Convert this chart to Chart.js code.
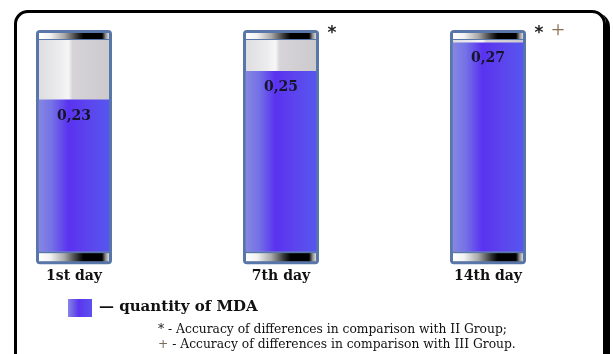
<!DOCTYPE html>
<html>
<head>
<meta charset="utf-8">
<script src="https://cdn.jsdelivr.net/npm/chart.js@4/dist/chart.umd.min.js"></script>
<style>
  html, body { margin: 0; padding: 0; background: #fff; }
  #wrap { position: relative; width: 613px; height: 354px; overflow: hidden; }
  #frame {
    position: absolute; left: 14px; top: 10px; width: 586px; height: 360px;
    border: 3px solid #000; border-radius: 14px; box-shadow: 4px 3px 0 #000;
  }
  #chart { position: absolute; left: 0; top: 0; }
  .legend-box {
    position: absolute; left: 68px; top: 299px; width: 24px; height: 18px;
    background: linear-gradient(to right, #8484e4 0%, #5a36ee 45%, #5c52ee 100%);
  }
  .legend-text {
    position: absolute; left: 99px; top: 297px;
    font: bold 15px "DejaVu Serif", serif; color: #111; white-space: nowrap;
  }
  .notes {
    position: absolute; left: 158px; top: 322px;
    font: 12.3px/15px "DejaVu Serif", serif; color: #111; white-space: nowrap;
  }
  .notes .plus { color: #7a6a5a; }
</style>
</head>
<body>
<div id="wrap">
  <div id="frame"></div>
  <canvas id="chart" width="613" height="354"></canvas>
  <div class="legend-box"></div>
  <div class="legend-text">— quantity of MDA</div>
  <div class="notes">
    <div>* - Accuracy of differences in comparison with II Group;</div>
    <div><span class="plus">+</span> - Accuracy of differences in comparison with III Group.</div>
  </div>
</div>
<script>
// Malondialdehyde level by observation day
const days = ['1st day', '7th day', '14th day'];
const mdaValues = [0.23, 0.25, 0.27];
// significance marks next to each tube: '*' vs II group, '+' vs III group
const significance = ['', '*', '*+'];
// value range shown inside a tube (bottom of the liquid to the top cap)
const Y_MIN = 0.124;
const Y_MAX = 0.272;

const valueText = v => v.toFixed(2).replace('.', ',');

const TUBE_HALF = 38;   // outer half-width of a tube
const INNER_HALF = 35;  // half-width of the liquid column

function blueFill(ctx) {
  const chart = ctx.chart;
  const xs = chart.scales && chart.scales.x;
  const cx = (xs && ctx.type === 'data') ? xs.getPixelForValue(ctx.dataIndex) : NaN;
  if (!Number.isFinite(cx)) return '#5a40ee';
  const g = chart.ctx.createLinearGradient(cx - INNER_HALF, 0, cx + INNER_HALF, 0);
  g.addColorStop(0, '#8686e2');
  g.addColorStop(0.18, '#7472e6');
  g.addColorStop(0.42, '#5a32f0');
  g.addColorStop(0.7, '#5c44ee');
  g.addColorStop(1, '#5656ee');
  return g;
}

function roundRect(ctx, x, y, w, h, r) {
  ctx.beginPath();
  ctx.moveTo(x + r, y);
  ctx.arcTo(x + w, y, x + w, y + h, r);
  ctx.arcTo(x + w, y + h, x, y + h, r);
  ctx.arcTo(x, y + h, x, y, r);
  ctx.arcTo(x, y, x + w, y, r);
  ctx.closePath();
}

function capGradient(ctx, cx) {
  const g = ctx.createLinearGradient(cx - INNER_HALF, 0, cx + INNER_HALF, 0);
  g.addColorStop(0, '#ffffff');
  g.addColorStop(0.16, '#f2f2f2');
  g.addColorStop(0.36, '#aaaaaa');
  g.addColorStop(0.56, '#2a2a2a');
  g.addColorStop(0.64, '#000000');
  g.addColorStop(0.9, '#000000');
  g.addColorStop(0.95, '#8a8a8a');
  g.addColorStop(1, '#dcdcdc');
  return g;
}

function glassGradient(ctx, cx) {
  const g = ctx.createLinearGradient(cx - INNER_HALF, 0, cx + INNER_HALF, 0);
  g.addColorStop(0, '#dedee2');
  g.addColorStop(0.3, '#ececee');
  g.addColorStop(0.42, '#f6f6f6');
  g.addColorStop(0.48, '#d6d4d8');
  g.addColorStop(1, '#cdcacd');
  return g;
}

// draws the tube body (frame, caps, empty glass) behind each bar,
// then the value labels and significance marks on top
const tubes = {
  id: 'tubes',
  beforeDatasetsDraw(chart) {
    const { ctx, chartArea: a } = chart;
    const bars = chart.getDatasetMeta(0).data;
    ctx.save();
    bars.forEach(bar => {
      const cx = bar.x;
      const top = a.top - 10;
      const bottom = a.bottom + 13;
      ctx.fillStyle = '#5876a8';
      roundRect(ctx, cx - TUBE_HALF, top, TUBE_HALF * 2, bottom - top, 4);
      ctx.fill();
      ctx.fillStyle = glassGradient(ctx, cx);
      ctx.fillRect(cx - INNER_HALF, a.top, INNER_HALF * 2, a.bottom - a.top);
      ctx.fillStyle = capGradient(ctx, cx);
      ctx.fillRect(cx - INNER_HALF, top + 3, INNER_HALF * 2, 6);
      ctx.fillRect(cx - INNER_HALF, a.bottom + 2, INNER_HALF * 2, 8);
    });
    ctx.restore();
  },
  afterDatasetsDraw(chart) {
    const { ctx, chartArea: a } = chart;
    const bars = chart.getDatasetMeta(0).data;
    ctx.save();
    bars.forEach((bar, i) => {
      ctx.fillStyle = '#14142a';
      ctx.font = 'bold 14px "DejaVu Serif", serif';
      ctx.textAlign = 'center';
      ctx.textBaseline = 'middle';
      ctx.fillText(valueText(mdaValues[i]), bar.x, bar.y + 16);

      let mx = bar.x + 51;
      for (const ch of significance[i]) {
        ctx.textBaseline = 'alphabetic';
        if (ch === '*') {
          ctx.fillStyle = '#222';
          ctx.font = 'bold 17px "DejaVu Sans", sans-serif';
          ctx.fillText('*', mx, a.top - 2);
        } else {
          ctx.fillStyle = '#8a6e50';
          ctx.font = '24px "Liberation Serif", serif';
          ctx.fillText('+', mx, a.top - 3);
        }
        mx += 19;
      }
    });
    ctx.restore();
  }
};

new Chart(document.getElementById('chart'), {
  type: 'bar',
  data: {
    labels: days,
    datasets: [{
      label: 'quantity of MDA',
      data: mdaValues,
      base: Y_MIN,
      backgroundColor: blueFill,
      borderWidth: 0,
      barThickness: INNER_HALF * 2,
      clip: false
    }]
  },
  options: {
    responsive: false,
    devicePixelRatio: 1,
    animation: false,
    layout: { padding: { left: 74, right: 125, top: 40, bottom: 52 } },
    plugins: { legend: { display: false }, tooltip: { enabled: false } },
    scales: {
      x: {
        offset: false,
        grid: { display: false, drawTicks: false },
        border: { display: false },
        ticks: {
          padding: 17,
          color: '#111',
          maxRotation: 0,
          autoSkip: false,
          font: { family: '"DejaVu Serif", serif', weight: 'bold', size: 14 }
        }
      },
      y: { display: false, min: Y_MIN, max: Y_MAX }
    }
  },
  plugins: [tubes]
});
</script>
</body>
</html>
